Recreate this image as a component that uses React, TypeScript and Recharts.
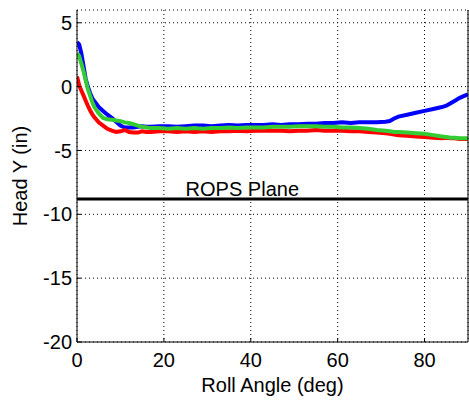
import React from 'react';
import { LineChart, Line, XAxis, YAxis, CartesianGrid, ReferenceLine } from 'recharts';

const rollAngle = [
  0, 0.5, 1, 1.5, 2, 2.5, 3, 3.5, 4,
  5, 6, 7, 8, 9, 10, 11, 12, 13, 14, 15, 16, 17,
  19, 21, 23, 25, 27, 29, 31, 33, 35, 37, 39, 41, 43, 45, 47, 49, 51, 53, 55, 57, 59, 61, 63, 65, 67, 69, 71,
  72, 73, 74,
  76, 78, 80, 82, 84,
  85, 86, 87, 88, 89, 90,
];

const blueHeadY = [
  3.5, 3.3, 2.6, 1.6, 0.6, 0.0, -0.5, -0.9, -1.15,
  -1.6, -1.9, -2.2, -2.45, -2.75, -3.05, -3.2, -3.2, -3.2, -3.15, -3.1, -3.15, -3.15,
  -3.1, -3.1, -3.15, -3.1, -3.05, -3.05, -3.1, -3.05, -3.0, -3.05, -3.0, -3.0, -3.0, -2.95, -3.0, -2.95, -2.95, -2.9, -2.9, -2.85, -2.85, -2.8, -2.85, -2.8, -2.8, -2.8, -2.75,
  -2.7, -2.5, -2.35,
  -2.2, -2.05, -1.9, -1.75, -1.6,
  -1.5, -1.3, -1.1, -0.9, -0.75, -0.6,
];

const redHeadY = [
  0.8, 0.1, -0.3, -0.7, -1.1, -1.5, -1.85, -2.15, -2.4,
  -2.8, -3.05, -3.3, -3.45, -3.55, -3.5, -3.4, -3.55, -3.6, -3.6, -3.5, -3.55, -3.55,
  -3.5, -3.5, -3.55, -3.5, -3.55, -3.5, -3.55, -3.5, -3.5, -3.45, -3.5, -3.45, -3.45, -3.45, -3.45, -3.5, -3.45, -3.45, -3.4, -3.45, -3.45, -3.45, -3.5, -3.5, -3.55, -3.6, -3.65,
  -3.7, -3.75, -3.8,
  -3.85, -3.9, -3.95, -4.0, -4.05,
  -4.0, -4.05, -4.05, -4.1, -4.1, -4.1,
];

const greenHeadY = [
  2.6, 2.4, 1.8, 1.2, 0.5, -0.2, -0.7, -1.2, -1.6,
  -2.1, -2.45, -2.55, -2.6, -2.65, -2.7, -2.8, -2.85, -2.95, -3.05, -3.15, -3.2, -3.25,
  -3.25, -3.3, -3.25, -3.3, -3.25, -3.3, -3.25, -3.25, -3.2, -3.25, -3.2, -3.2, -3.2, -3.15, -3.15, -3.15, -3.1, -3.1, -3.1, -3.15, -3.15, -3.2, -3.2, -3.25, -3.3, -3.4, -3.45,
  -3.5, -3.55, -3.55,
  -3.6, -3.65, -3.7, -3.8, -3.9,
  -3.95, -4.0, -4.0, -4.05, -4.05, -4.05,
];

const xTicks = [0, 20, 40, 60, 80];
const yTicks = [-20, -15, -10, -5, 0, 5];
const xDomain = [0, 90];
const yDomain = [-20, 6];
const ropsPlaneY = -8.8;
const ropsLabelX = 25;
const ropsLabel = 'ROPS Plane';
const xLabel = 'Roll Angle (deg)';
const yLabel = 'Head Y (in)';

const data = rollAngle.map((x, i) => ({
  x,
  blue: blueHeadY[i],
  red: redHeadY[i],
  green: greenHeadY[i],
}));

const FONT = '"Liberation Sans", Arial, Helvetica, sans-serif';
const FS = 20;

export default function App() {
  return (
    <div style={{ position: 'absolute', left: 0, top: 0, width: 469, height: 402, background: '#fff', fontFamily: FONT }}>
      <LineChart width={469} height={402} data={data} margin={{ top: 10, right: 0, bottom: 0, left: 0 }}>
        <CartesianGrid stroke="#000" strokeDasharray="1 3" strokeWidth={1} />
        <XAxis
          dataKey="x"
          type="number"
          domain={xDomain}
          ticks={xTicks}
          interval={0}
          allowDataOverflow
          height={60}
          stroke="#000"
          tickSize={-4}
          tickMargin={15}
          tick={{ fill: '#000', fontSize: FS, fontFamily: FONT }}
          label={{ value: xLabel, position: 'insideBottom', offset: 10, fill: '#000', fontSize: FS, fontFamily: FONT }}
        />
        <XAxis
          xAxisId="top"
          orientation="top"
          dataKey="x"
          type="number"
          domain={xDomain}
          ticks={xTicks}
          interval={0}
          allowDataOverflow
          height={0}
          stroke="#000"
          tickSize={-4}
          tick={false}
        />
        <YAxis
          type="number"
          domain={yDomain}
          ticks={yTicks}
          interval={0}
          allowDataOverflow
          width={77}
          stroke="#000"
          tickSize={-4}
          tickMargin={9}
          tick={{ fill: '#000', fontSize: FS, fontFamily: FONT }}
          label={{
            content: (props: any) => {
              const vb = props.viewBox || { x: 0, y: 10, width: 77, height: 332 };
              const cx = 27;
              const cy = vb.y + vb.height / 2;
              return (
                <text
                  x={cx}
                  y={cy}
                  transform={`rotate(-90 ${cx} ${cy})`}
                  textAnchor="middle"
                  fill="#000"
                  fontSize={FS}
                  fontFamily={FONT}
                >
                  {yLabel}
                </text>
              );
            },
          }}
        />
        <YAxis
          yAxisId="right"
          orientation="right"
          type="number"
          domain={yDomain}
          ticks={yTicks}
          interval={0}
          allowDataOverflow
          width={1}
          stroke="#000"
          tickSize={-4}
          tick={false}
        />
        <ReferenceLine
          y={ropsPlaneY}
          stroke="#000"
          strokeWidth={3}
          label={{
            content: (props: any) => {
              const vb = props.viewBox;
              if (!vb) return null;
              const x = vb.x + (ropsLabelX / (xDomain[1] - xDomain[0])) * vb.width;
              const y = vb.y - 3;
              return (
                <text x={x} y={y} fill="#000" fontSize={FS} fontFamily={FONT}>
                  {ropsLabel}
                </text>
              );
            },
          }}
        />
        <Line type="linear" dataKey="blue" stroke="#0000ff" strokeWidth={4} dot={false} isAnimationActive={false} />
        <Line type="linear" dataKey="red" stroke="#ff0000" strokeWidth={4} dot={false} isAnimationActive={false} />
        <Line type="linear" dataKey="green" stroke="#33cc33" strokeWidth={4} dot={false} isAnimationActive={false} />
      </LineChart>
    </div>
  );
}
